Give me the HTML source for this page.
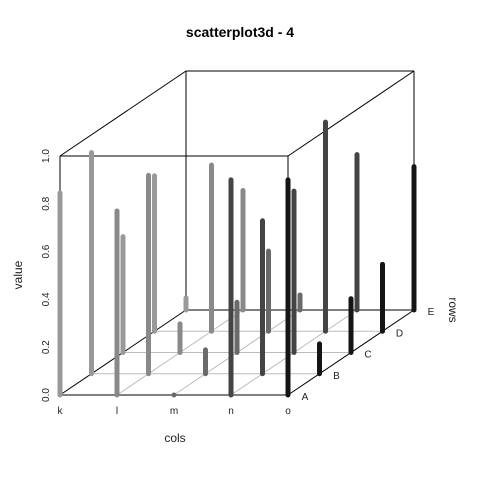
<!DOCTYPE html>
<html><head><meta charset="utf-8"><style>
html,body{margin:0;padding:0;background:#fff;}
svg{display:block;font-family:"Liberation Sans",Arial,sans-serif;}
</style></head><body>
<svg id="chart" width="480" height="480" viewBox="0 0 480 480" xmlns="http://www.w3.org/2000/svg">
<rect width="480" height="480" fill="#fff"/>
<text x="240" y="37" text-anchor="middle" font-size="14" font-weight="bold">scatterplot3d - 4</text>
<g id="grid"></g>
<g id="box"></g>
<g id="bars"></g>
<g id="labels"></g>
<text x="175" y="442" text-anchor="middle" font-size="12" fill="#222">cols</text>
<text transform="translate(22,275) rotate(-90)" text-anchor="middle" font-size="12" fill="#222">value</text>
<text transform="translate(449,310) rotate(90)" text-anchor="middle" font-size="12" fill="#222">rows</text>
</svg>
<script>
const cols = ['k','l','m','n','o'];
const rows = ['A','B','C','D','E'];
const valK = [0.845,0.925,0.485,0.65,0.05];
const valL = [0.77,0.83,0.12,0.695,0.5];
const valM = [0,0.1,0.21,0.335,0.063];
const valN = [0.9,0.64,0.675,0.875,0.65];
const valO = [0.9,0.125,0.225,0.28,0.6];
const yTicks = ['0.0','0.2','0.4','0.6','0.8','1.0'];
const colColors = ['#999999','#898989','#6a6a6a','#444444','#151515'];

const NS='http://www.w3.org/2000/svg';
const X0=60, Y0=395, COLW=57, H=239, DX=31.5, DY=-21.25;
function px(ci,ri){return X0+ci*COLW+ri*DX;}
function py(v,ri){return Y0+ri*DY-v*H;}
function mk(tag,attrs,parent){const e=document.createElementNS(NS,tag);for(const k in attrs)e.setAttribute(k,attrs[k]);document.getElementById(parent).appendChild(e);return e;}

// grid
for(let r=1;r<rows.length-1;r++){
  const l=mk('line',{x1:px(0,r),y1:py(0,r),x2:px(4,r),y2:py(0,r),stroke:'#bbb','stroke-width':1},'grid');
  
  
}
for(let c=1;c<cols.length-1;c++){
  const l=mk('line',{x1:px(c,0),y1:py(0,0),x2:px(c,4),y2:py(0,4),stroke:'#bbb','stroke-width':1},'grid');
  
  
}
// box
const boxLines=[
 [px(0,0),py(1,0),px(4,0),py(1,0)],[px(0,0),py(0,0),px(4,0),py(0,0)],
 [px(0,0),py(1,0),px(0,0),py(0,0)],[px(4,0),py(1,0),px(4,0),py(0,0)],
 [px(0,4),py(1,4),px(4,4),py(1,4)],[px(0,4),py(0,4),px(4,4),py(0,4)],
 [px(0,4),py(1,4),px(0,4),py(0,4)],[px(4,4),py(1,4),px(4,4),py(0,4)],
 [px(0,0),py(1,0),px(0,4),py(1,4)],[px(4,0),py(1,0),px(4,4),py(1,4)],
 [px(0,0),py(0,0),px(0,4),py(0,4)],[px(4,0),py(0,0),px(4,4),py(0,4)]
];
boxLines.forEach(b=>{
  const l=mk('line',{x1:b[0],y1:b[1],x2:b[2],y2:b[3],stroke:'#000','stroke-width':1},'box');
  
  
});
// bars (back to front)
const series=[valK,valL,valM,valN,valO];
for(let r=rows.length-1;r>=0;r--){
  for(let c=0;c<cols.length;c++){
    const v=series[c][r];
    const x=px(c,r);
    const b=mk('line',{x1:x,y1:py(0,r),x2:x,y2:py(v,r),stroke:colColors[c],'stroke-width':5,'stroke-linecap':'round'},'bars');
    
    
  }
}
// labels
cols.forEach((c,i)=>{
  const t=mk('text',{x:px(i,0),y:414,'text-anchor':'middle','font-size':10,fill:'#222'},'labels');
  t.textContent=c;
  
  
});
rows.forEach((r,i)=>{
  const t=mk('text',{x:px(4,i)+17,y:py(0,i)+5,'text-anchor':'middle','font-size':10,fill:'#222'},'labels');
  t.textContent=r;
  
  
});
yTicks.forEach((s,i)=>{
  const y=py(parseFloat(s),0);
  const t=mk('text',{transform:'translate(49,'+y+') rotate(-90)','text-anchor':'middle','font-size':10,fill:'#222'},'labels');
  t.textContent=s;
  
  
});
</script>
</body></html>
